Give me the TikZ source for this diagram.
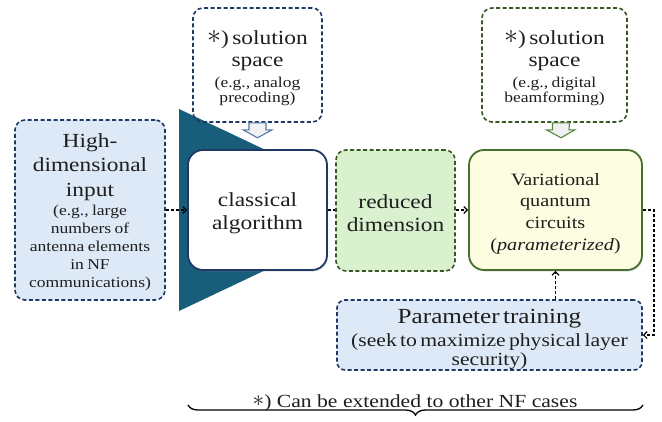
\documentclass[tikz,border=0pt]{standalone}
\usepackage{fontspec}
\setmainfont{Liberation Serif}[FakeStretch=1.17]
\usetikzlibrary{arrows.meta,decorations.pathreplacing,shadows}

\definecolor{navy}{RGB}{31,56,100}
\definecolor{paleblue}{RGB}{221,233,246}
\definecolor{funnelteal}{RGB}{24,94,122}
\definecolor{darkgreen}{RGB}{56,87,35}
\definecolor{palegreen}{RGB}{218,241,208}
\definecolor{vqcgreen}{RGB}{70,112,45}
\definecolor{paleyellow}{RGB}{253,253,226}
\definecolor{hintgrey}{RGB}{240,241,243}
\definecolor{hintblue}{RGB}{84,122,168}
\definecolor{hintgreen}{RGB}{90,135,60}
\definecolor{inktext}{RGB}{30,30,30}

\newcommand\fsTitle{\fontsize{20}{22}\selectfont}
\newcommand\fsSub{\fontsize{15}{15.5}\selectfont}
% centred asterisk, a little larger than the math one
\newcommand\astmark{\raisebox{0.5pt}{\scalebox{1.35}{$\ast$}}}

\begin{document}
\begin{tikzpicture}[x=1pt,y=-1pt,
  every node/.style={inner sep=0pt, align=center, text=inktext},
  dashbox/.style={draw, line width=1.6pt, dash pattern=on 4pt off 2.5pt, rounded corners=10pt},
  solidbox/.style={draw, line width=1.8pt, rounded corners=15pt,
    drop shadow={opacity=0.25, shadow xshift=1pt, shadow yshift=-1.5pt}},
  conn/.style={draw=black, line width=1.2pt, dash pattern=on 3pt off 2pt,
    -{Straight Barb[length=3.5pt,width=7pt,line width=1.2pt]}},
  plainconn/.style={draw=black, line width=1.2pt, dash pattern=on 3pt off 2pt},
  hint/.style={line width=1.1pt, fill=hintgrey, line join=miter}
]
\useasboundingbox[fill=white] (0,0) rectangle (662,421);

% funnel behind the classical block
\fill[funnelteal] (179,109) -- (310,171) -- (310,249) -- (179,311) -- cycle;

% input block
\node[dashbox, draw=navy, fill=paleblue, minimum width=150pt, minimum height=180pt]
  (inp) at (90,210) {};
\node[text width=146pt] (inpText) at (90,212)
  {{\fontsize{20}{24.5}\selectfont High-\\dimensional\\input\par}
   \vspace{1pt}
   {\fontsize{15}{18}\selectfont (e.g., large\\numbers of\\antenna elements\\in NF\\communications)\par}};

% processing chain
\node[solidbox, draw=navy, fill=white, minimum width=139pt, minimum height=120pt]
  (cls) at (257.5,210) {};
\node[text width=135pt] (clsText) at (257.5,213.5)
  {\fontsize{20}{23}\selectfont classical\\algorithm\par};

\node[dashbox, draw=darkgreen, fill=palegreen, minimum width=119pt, minimum height=121pt]
  (red) at (395.5,210.5) {};
\node[text width=115pt] (redText) at (395.5,213.5)
  {\fontsize{20}{23}\selectfont reduced\\dimension\par};

\node[solidbox, draw=vqcgreen, fill=paleyellow, minimum width=173pt, minimum height=120pt]
  (vqc) at (555.5,210) {};
\node[text width=165pt] (vqcText) at (555.5,213.5)
  {\fontsize{17.3}{21.7}\selectfont Variational\\quantum\\circuits\\(\textit{parameterized})\par};

% training block
\node[dashbox, draw=navy, fill=paleblue, minimum width=305pt, minimum height=70pt, rounded corners=8pt]
  (trn) at (489.5,335) {};
\node[text width=300pt] (trnText) at (489.5,339)
  {{\fontsize{21.5}{23}\selectfont Parameter training\par}
   \vspace{5pt}
   {\fontsize{18.5}{18.5}\selectfont (seek to maximize physical layer\\security)\par}};

% solution-space notes
\node[dashbox, draw=navy, minimum width=129pt, minimum height=114pt]
  (solA) at (257.5,65) {};
\node[text width=125pt] (solAText) at (257.5,68)
  {{\fsTitle \astmark) solution\\space\par}
   \vspace{5.5pt}
   {\fsSub (e.g., analog\\precoding)\par}};

\node[dashbox, draw=darkgreen, minimum width=145pt, minimum height=114pt]
  (solB) at (554.5,65) {};
\node[text width=141pt] (solBText) at (554.5,68)
  {{\fsTitle \astmark) solution\\space\par}
   \vspace{5.5pt}
   {\fsSub (e.g., digital\\beamforming)\par}};

% hollow block arrows under the notes
\draw[hint, draw=hintblue]
  ([xshift=-8.5pt]solA.south) -- ++(0,7) -- ++(-6,0) -- ([yshift=-15pt]solA.south)
  -- ([xshift=14.5pt,yshift=-7pt]solA.south) -- ++(-6,0) -- ([xshift=8.5pt]solA.south) -- cycle;
\draw[hint, draw=hintgreen]
  ([xshift=-2pt]solB.south) -- ++(0,7) -- ++(-6,0) -- ([xshift=6.5pt,yshift=-15pt]solB.south)
  -- ([xshift=20.5pt,yshift=-7pt]solB.south) -- ++(-6,0) -- ([xshift=15pt]solB.south) -- cycle;

% connectors
\draw[conn] (inp.east |- cls.west) -- (cls.west);
\draw[plainconn] (cls.east) -- (red.west |- cls.east);
\draw[conn] (red.east |- vqc.west) -- (vqc.west);
\draw[conn] (vqc.east) -- ++(11,0) |- (trn.east);
\draw[conn] (vqc.south |- trn.north) -- (vqc.south);

% scope brace
\coordinate (braceL) at (188,405);
\coordinate (braceR) at (643,405);
\draw[line width=1.3pt, decorate, decoration={brace, mirror, amplitude=10pt}]
  (braceL) -- (braceR);
\node[font=\fontsize{18.5}{20}\selectfont] (note) at (415,403)
  {\astmark) Can be extended to other NF cases};
\end{tikzpicture}
\end{document}
